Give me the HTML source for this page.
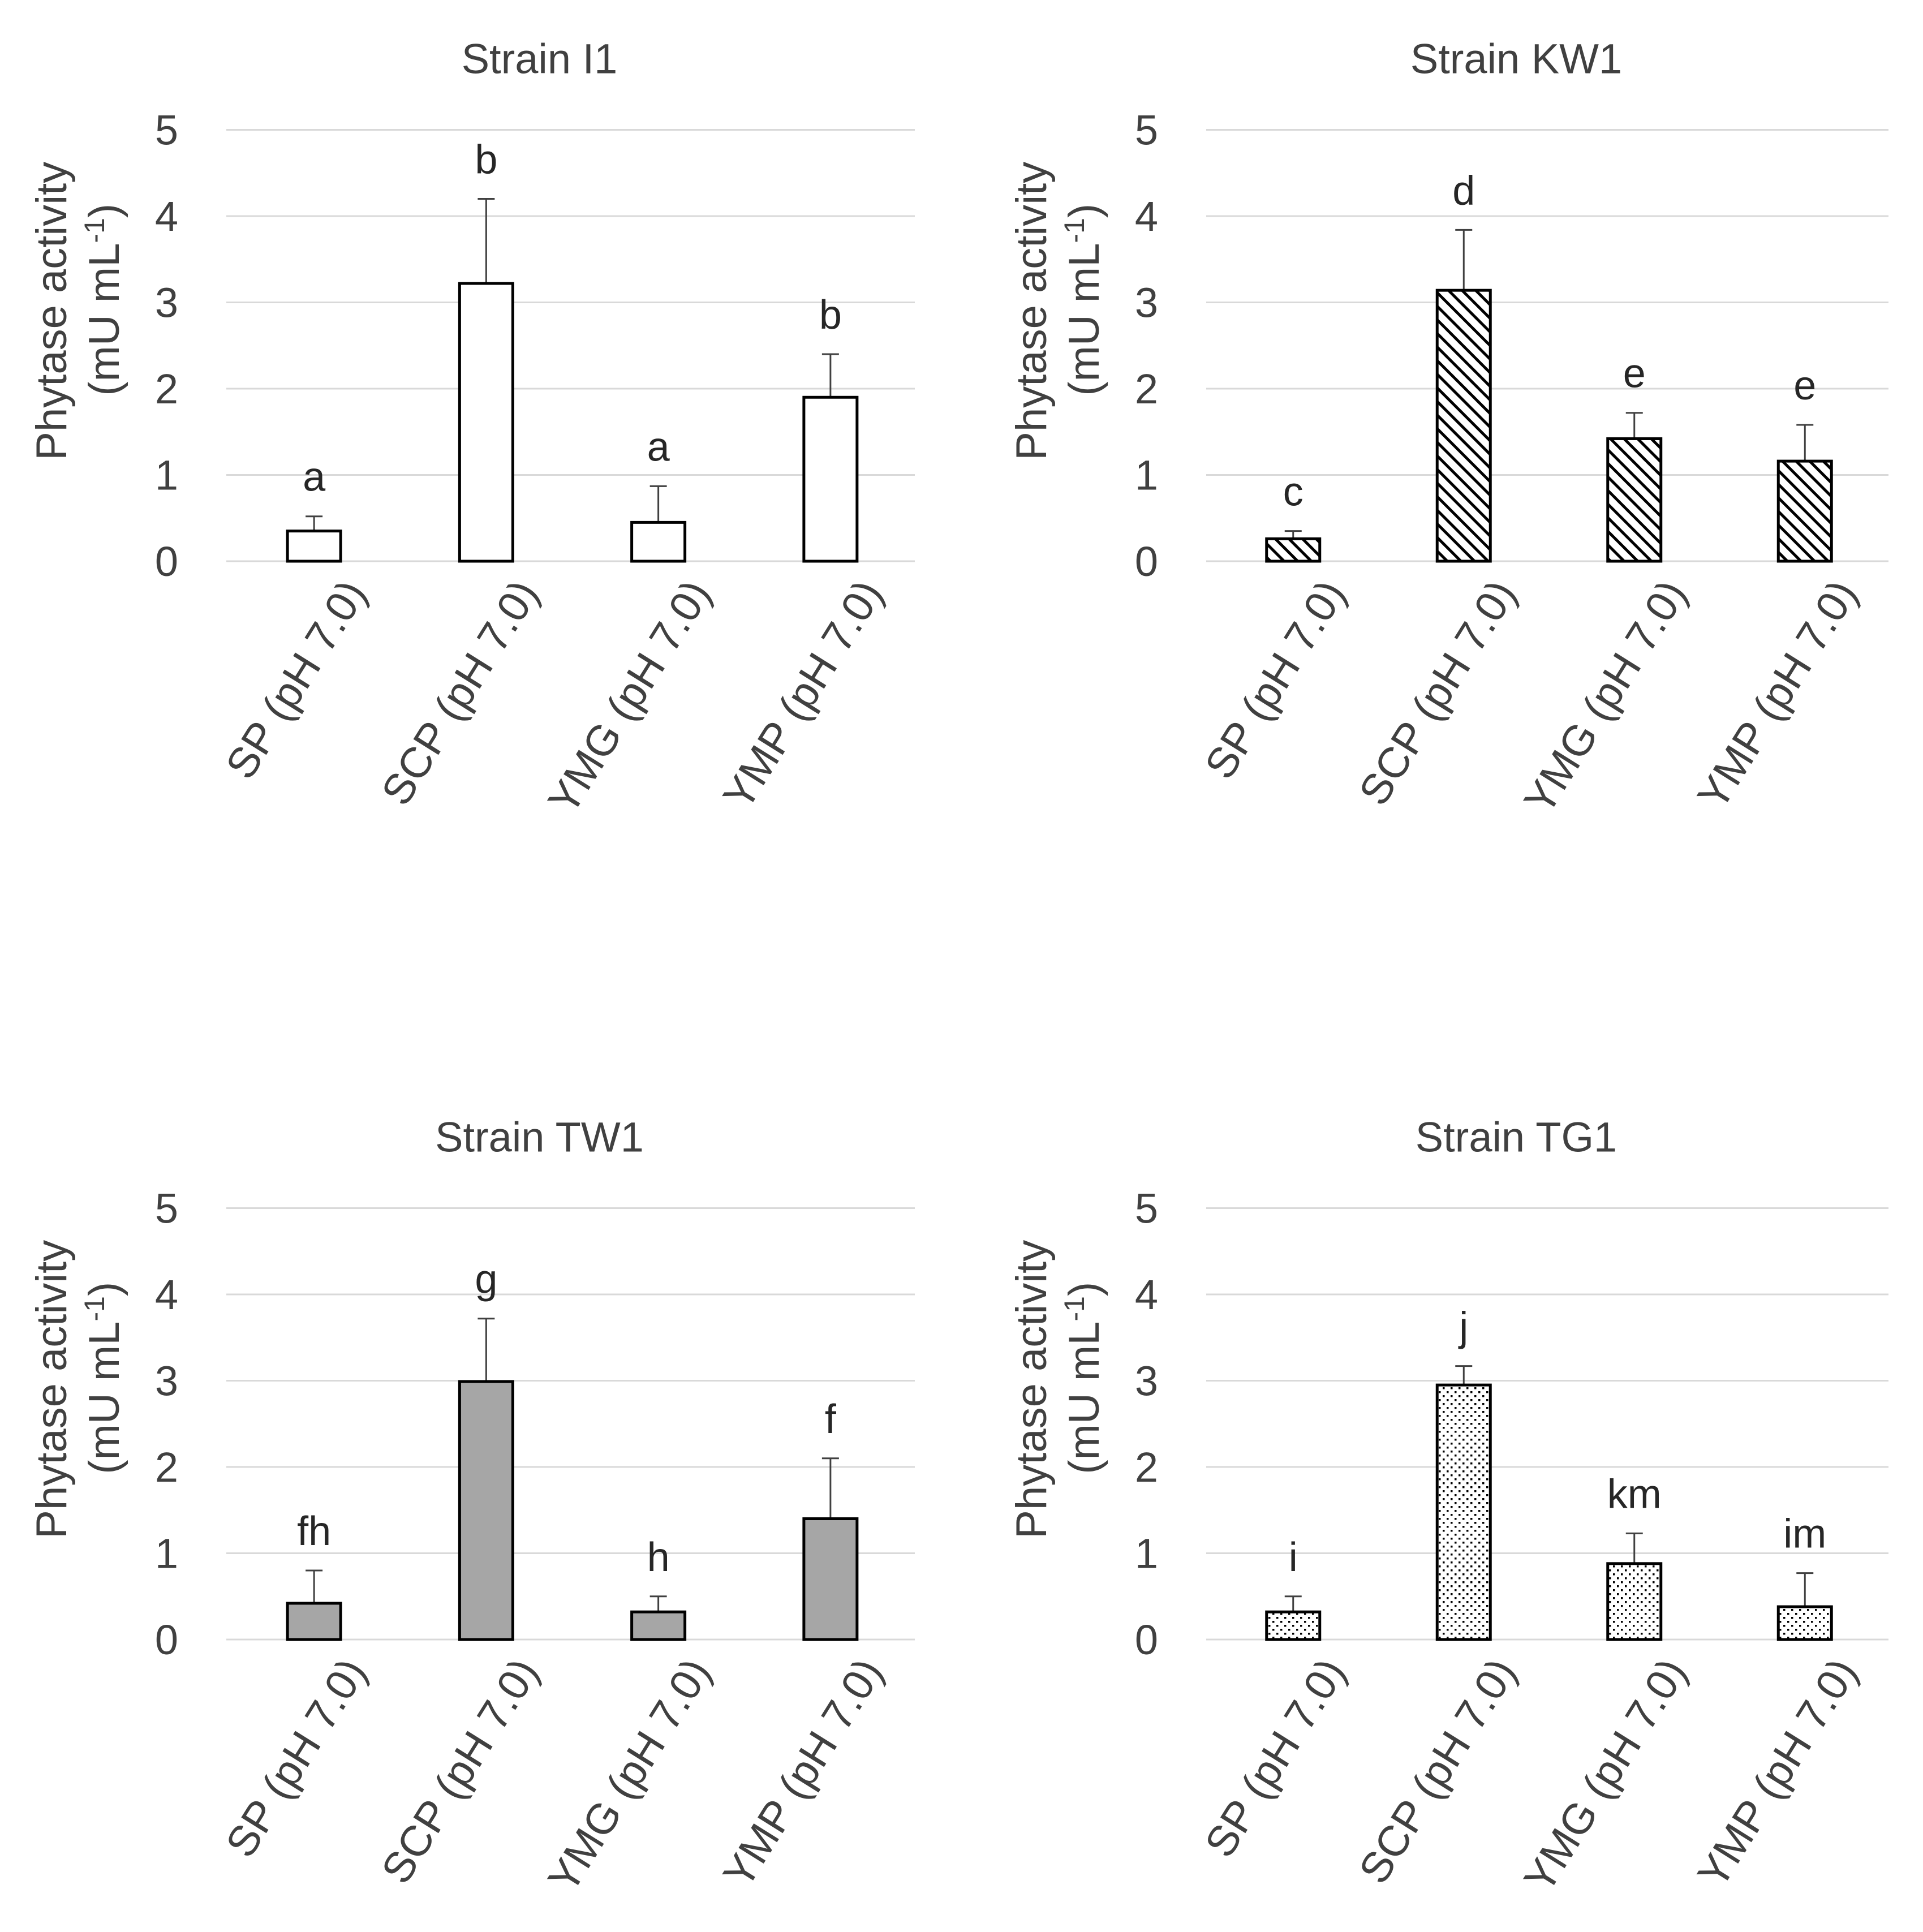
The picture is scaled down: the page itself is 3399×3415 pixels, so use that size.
<!DOCTYPE html>
<html><head><meta charset="utf-8"><style>
html,body{margin:0;padding:0;background:#fff;}
svg{display:block;font-family:"Liberation Sans",Arial,sans-serif;}
</style></head><body>
<svg id="c" width="3399" height="3415" viewBox="0 0 3399 3415" xmlns="http://www.w3.org/2000/svg">
<defs>
<pattern id="hatch" patternUnits="userSpaceOnUse" width="17" height="17" patternTransform="rotate(-45)">
<rect width="17" height="17" fill="#fff"/><rect x="0" y="0" width="5" height="17" fill="#000"/>
</pattern>
<pattern id="dots" patternUnits="userSpaceOnUse" width="14" height="14">
<rect width="14" height="14" fill="#fff"/><rect x="2" y="2" width="3.5" height="3.5" fill="#000"/><rect x="9" y="9" width="3.5" height="3.5" fill="#000"/>
</pattern>
</defs>
</svg>
<script>
const categories = ["SP (pH 7.0)", "SCP (pH 7.0)", "YMG (pH 7.0)", "YMP (pH 7.0)"];
const yTicks = [0, 1, 2, 3, 4, 5];
const titles = ["Strain I1", "Strain KW1", "Strain TW1", "Strain TG1"];
const valuesI1 = [0.35, 3.22, 0.45, 1.9];
const errTopI1 = [0.52, 4.2, 0.87, 2.4];
const lettersI1 = ["a", "b", "a", "b"];
const valuesKW1 = [0.26, 3.14, 1.42, 1.16];
const errTopKW1 = [0.35, 3.84, 1.72, 1.58];
const lettersKW1 = ["c", "d", "e", "e"];
const valuesTW1 = [0.42, 2.99, 0.32, 1.4];
const errTopTW1 = [0.8, 3.72, 0.5, 2.1];
const lettersTW1 = ["fh", "g", "h", "f"];
const valuesTG1 = [0.32, 2.95, 0.88, 0.38];
const errTopTG1 = [0.5, 3.17, 1.23, 0.77];
const lettersTG1 = ["i", "j", "km", "im"];

const NS = "http://www.w3.org/2000/svg";
const svg = document.getElementById("c");
function mk(tag, attrs, parent) {
  const e = document.createElementNS(NS, tag);
  for (const k in attrs) e.setAttribute(k, attrs[k]);
  (parent || svg).appendChild(e);
  return e;
}
const panels = [
  {x0: 400, x1: 1617, y0: 992, title: titles[0], v: valuesI1, e: errTopI1, l: lettersI1, fill: "#fff", key: "i1"},
  {x0: 2132, x1: 3338, y0: 992, title: titles[1], v: valuesKW1, e: errTopKW1, l: lettersKW1, fill: "url(#hatch)", key: "kw1"},
  {x0: 400, x1: 1617, y0: 2898, title: titles[2], v: valuesTW1, e: errTopTW1, l: lettersTW1, fill: "#a6a6a6", key: "tw1"},
  {x0: 2132, x1: 3338, y0: 2898, title: titles[3], v: valuesTG1, e: errTopTG1, l: lettersTG1, fill: "url(#dots)", key: "tg1"}
];
const unit = 152.5;
panels.forEach(p => {
  const g = mk("g", {});
  
  
  const y = v => p.y0 - v * unit;
  const step = (p.x1 - p.x0) / 4;
  const xc = i => p.x0 + step * (i + 0.5) + 3;
  const t = mk("text", {x: (p.x0 + p.x1) / 2 - 55, y: p.y0 - 5 * unit - 100, "text-anchor": "middle", "font-size": 74, fill: "#404040"}, g);
  t.textContent = p.title;
  
  
  yTicks.forEach(tv => {
    const ln = mk("line", {x1: p.x0, x2: p.x1, y1: y(tv), y2: y(tv), stroke: "#d9d9d9", "stroke-width": 3}, g);
    
    
    const tl = mk("text", {x: p.x0 - 85, y: y(tv) + 26, "text-anchor": "end", "font-size": 74, fill: "#404040"}, g);
    tl.textContent = tv;
    
    
  });
  const cy = p.y0 - 2.9 * unit;
  const yt = mk("text", {transform: `translate(${p.x0 - 283},${cy}) rotate(-90)`, "text-anchor": "middle", "font-size": 76, fill: "#404040"}, g);
  yt.textContent = "Phytase  activity";
  
  
  const yt2 = mk("text", {transform: `translate(${p.x0 - 190},${cy - 20}) rotate(-90)`, "text-anchor": "middle", "font-size": 76, fill: "#404040"}, g);
  yt2.innerHTML = '(mU mL<tspan dy="-26" font-size="50">-1</tspan><tspan dy="26">)</tspan>';
  
  
  p.v.forEach((v, i) => {
    const cx = xc(i);
    const eb = mk("line", {x1: cx, x2: cx, y1: y(p.e[i]), y2: y(v), stroke: "#404040", "stroke-width": 3}, g);
    
    
    const cap = mk("line", {x1: cx - 15, x2: cx + 15, y1: y(p.e[i]), y2: y(p.e[i]), stroke: "#404040", "stroke-width": 3}, g);
    
    
    const r = mk("rect", {x: cx - 47, y: y(v), width: 94, height: v * unit, fill: p.fill, stroke: "#000", "stroke-width": 5}, g);
    
    
    const lt = mk("text", {x: cx, y: y(p.e[i]) - 45, "text-anchor": "middle", "font-size": 72, fill: "#262626"}, g);
    lt.textContent = p.l[i];
    
    
    const xl = mk("text", {transform: `translate(${cx + 95},${p.y0 + 55}) rotate(-58)`, "text-anchor": "end", "font-size": 76, fill: "#404040"}, g);
    xl.textContent = categories[i];
    
    
  });
});
</script>
</body></html>
